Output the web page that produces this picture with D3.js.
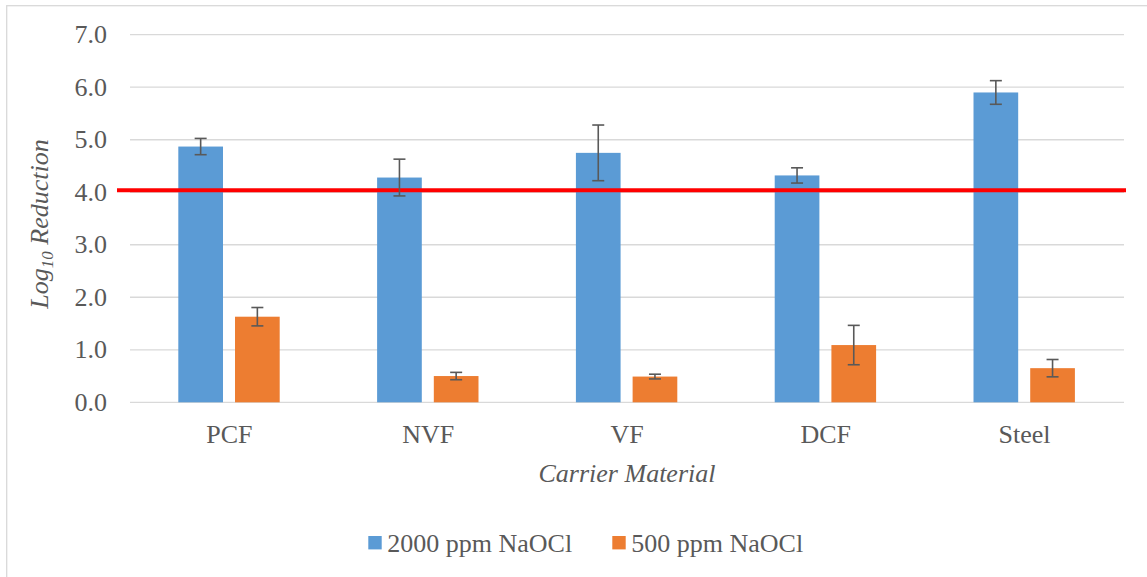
<!DOCTYPE html>
<html>
<head>
<meta charset="utf-8">
<script src="https://cdn.jsdelivr.net/npm/d3@7"></script>
<style>
  html, body { margin: 0; padding: 0; background: #fff; }
  svg { display: block; }
  text { font-family: "Liberation Serif", "Times New Roman", serif; fill: #595959; }
</style>
</head>
<body>
<svg id="chart" width="1147" height="577"></svg>
<script>
const categories = ["PCF", "NVF", "VF", "DCF", "Steel"];
const seriesNames = ["2000 ppm NaOCl", "500 ppm NaOCl"];
const values2000 = [4.87, 4.28, 4.75, 4.32, 5.90];
const errors2000 = [0.155, 0.35, 0.53, 0.145, 0.225];
const values500 = [1.63, 0.50, 0.49, 1.09, 0.65];
const errors500 = [0.175, 0.07, 0.045, 0.375, 0.165];
const yTicks = [0, 1, 2, 3, 4, 5, 6, 7];
const thresholdValue = [4.04];
const colors = ["#5b9bd5", "#ed7d31"];

const svg = d3.select("#chart");

// outer chart border (only top & left visible)
svg.append("rect")
  .attr("x", 6.7).attr("y", 5.7)
  .attr("width", 1160).attr("height", 600)
  .attr("fill", "none").attr("stroke", "#d9d9d9").attr("stroke-width", 1.3);

const x0 = d3.scaleBand().domain(categories).range([130, 1124]).padding(0);
const bw = x0.bandwidth();
const x1 = d3.scaleBand().domain(seriesNames)
  .range([bw * 0.243, bw * 0.753]).paddingInner(0.212).paddingOuter(0);
const y = d3.scaleLinear().domain([0, 7]).range([402.3, 34.7]);

// gridlines
svg.append("g").selectAll("line").data(yTicks).join("line")
  .attr("x1", 130).attr("x2", 1124)
  .attr("y1", d => y(d)).attr("y2", d => y(d))
  .attr("stroke", "#d9d9d9").attr("stroke-width", 1.3);

// y tick labels
svg.append("g").selectAll("text").data(yTicks).join("text")
  .attr("x", 107).attr("y", d => y(d) + 8.6)
  .attr("text-anchor", "end")
  .style("font-size", "26px")
  .text(d => d.toFixed(1));

// data table
const data = [];
categories.forEach((c, i) => {
  data.push({ cat: c, s: seriesNames[0], v: values2000[i], e: errors2000[i], col: colors[0] });
  data.push({ cat: c, s: seriesNames[1], v: values500[i], e: errors500[i], col: colors[1] });
});

// bars
svg.append("g").selectAll("rect").data(data).join("rect")
  .attr("x", d => x0(d.cat) + x1(d.s))
  .attr("width", x1.bandwidth())
  .attr("y", d => y(d.v))
  .attr("height", d => y(0) - y(d.v))
  .attr("fill", d => d.col);

// threshold line
svg.append("g").selectAll("line").data(thresholdValue).join("line")
  .attr("x1", 117).attr("x2", 1126)
  .attr("y1", d => y(d)).attr("y2", d => y(d))
  .attr("stroke", "#ff0000").attr("stroke-width", 4);

// error bars
const eg = svg.append("g").attr("stroke", "#595959").attr("stroke-width", 1.6);
data.forEach(d => {
  const cx = x0(d.cat) + x1(d.s) + x1.bandwidth() / 2;
  const yt = y(d.v + d.e), yb = y(d.v - d.e);
  eg.append("line").attr("x1", cx).attr("x2", cx).attr("y1", yt).attr("y2", yb);
  eg.append("line").attr("x1", cx - 6).attr("x2", cx + 6).attr("y1", yt).attr("y2", yt);
  eg.append("line").attr("x1", cx - 6).attr("x2", cx + 6).attr("y1", yb).attr("y2", yb);
});

// x labels
svg.append("g").selectAll("text").data(categories).join("text")
  .attr("x", d => x0(d) + bw / 2).attr("y", 443.3)
  .attr("text-anchor", "middle")
  .style("font-size", "26px")
  .text(d => d);

// x title
svg.append("text")
  .attr("x", 627).attr("y", 481.7)
  .attr("text-anchor", "middle")
  .style("font-size", "26px").style("font-style", "italic")
  .text("Carrier Material");

// y title
const yt = svg.append("text")
  .attr("transform", "translate(48,224) rotate(-90)")
  .attr("text-anchor", "middle")
  .style("font-size", "26px").style("font-style", "italic");
yt.append("tspan").text("Log");
yt.append("tspan").attr("dy", "0.3em").style("font-size", "17px").text("10");
yt.append("tspan").attr("dy", "-0.2em").text(" Reduction");

// legend
const legX = [368.3, 612.3];
const lg = svg.append("g").selectAll("g").data(seriesNames).join("g");
lg.append("rect")
  .attr("x", (d, i) => legX[i]).attr("y", 536)
  .attr("width", 13.4).attr("height", 13.4)
  .attr("fill", (d, i) => colors[i]);
lg.append("text")
  .attr("x", (d, i) => legX[i] + 19).attr("y", 551.7)
  .style("font-size", "26px")
  .text(d => d);
</script>
</body>
</html>
